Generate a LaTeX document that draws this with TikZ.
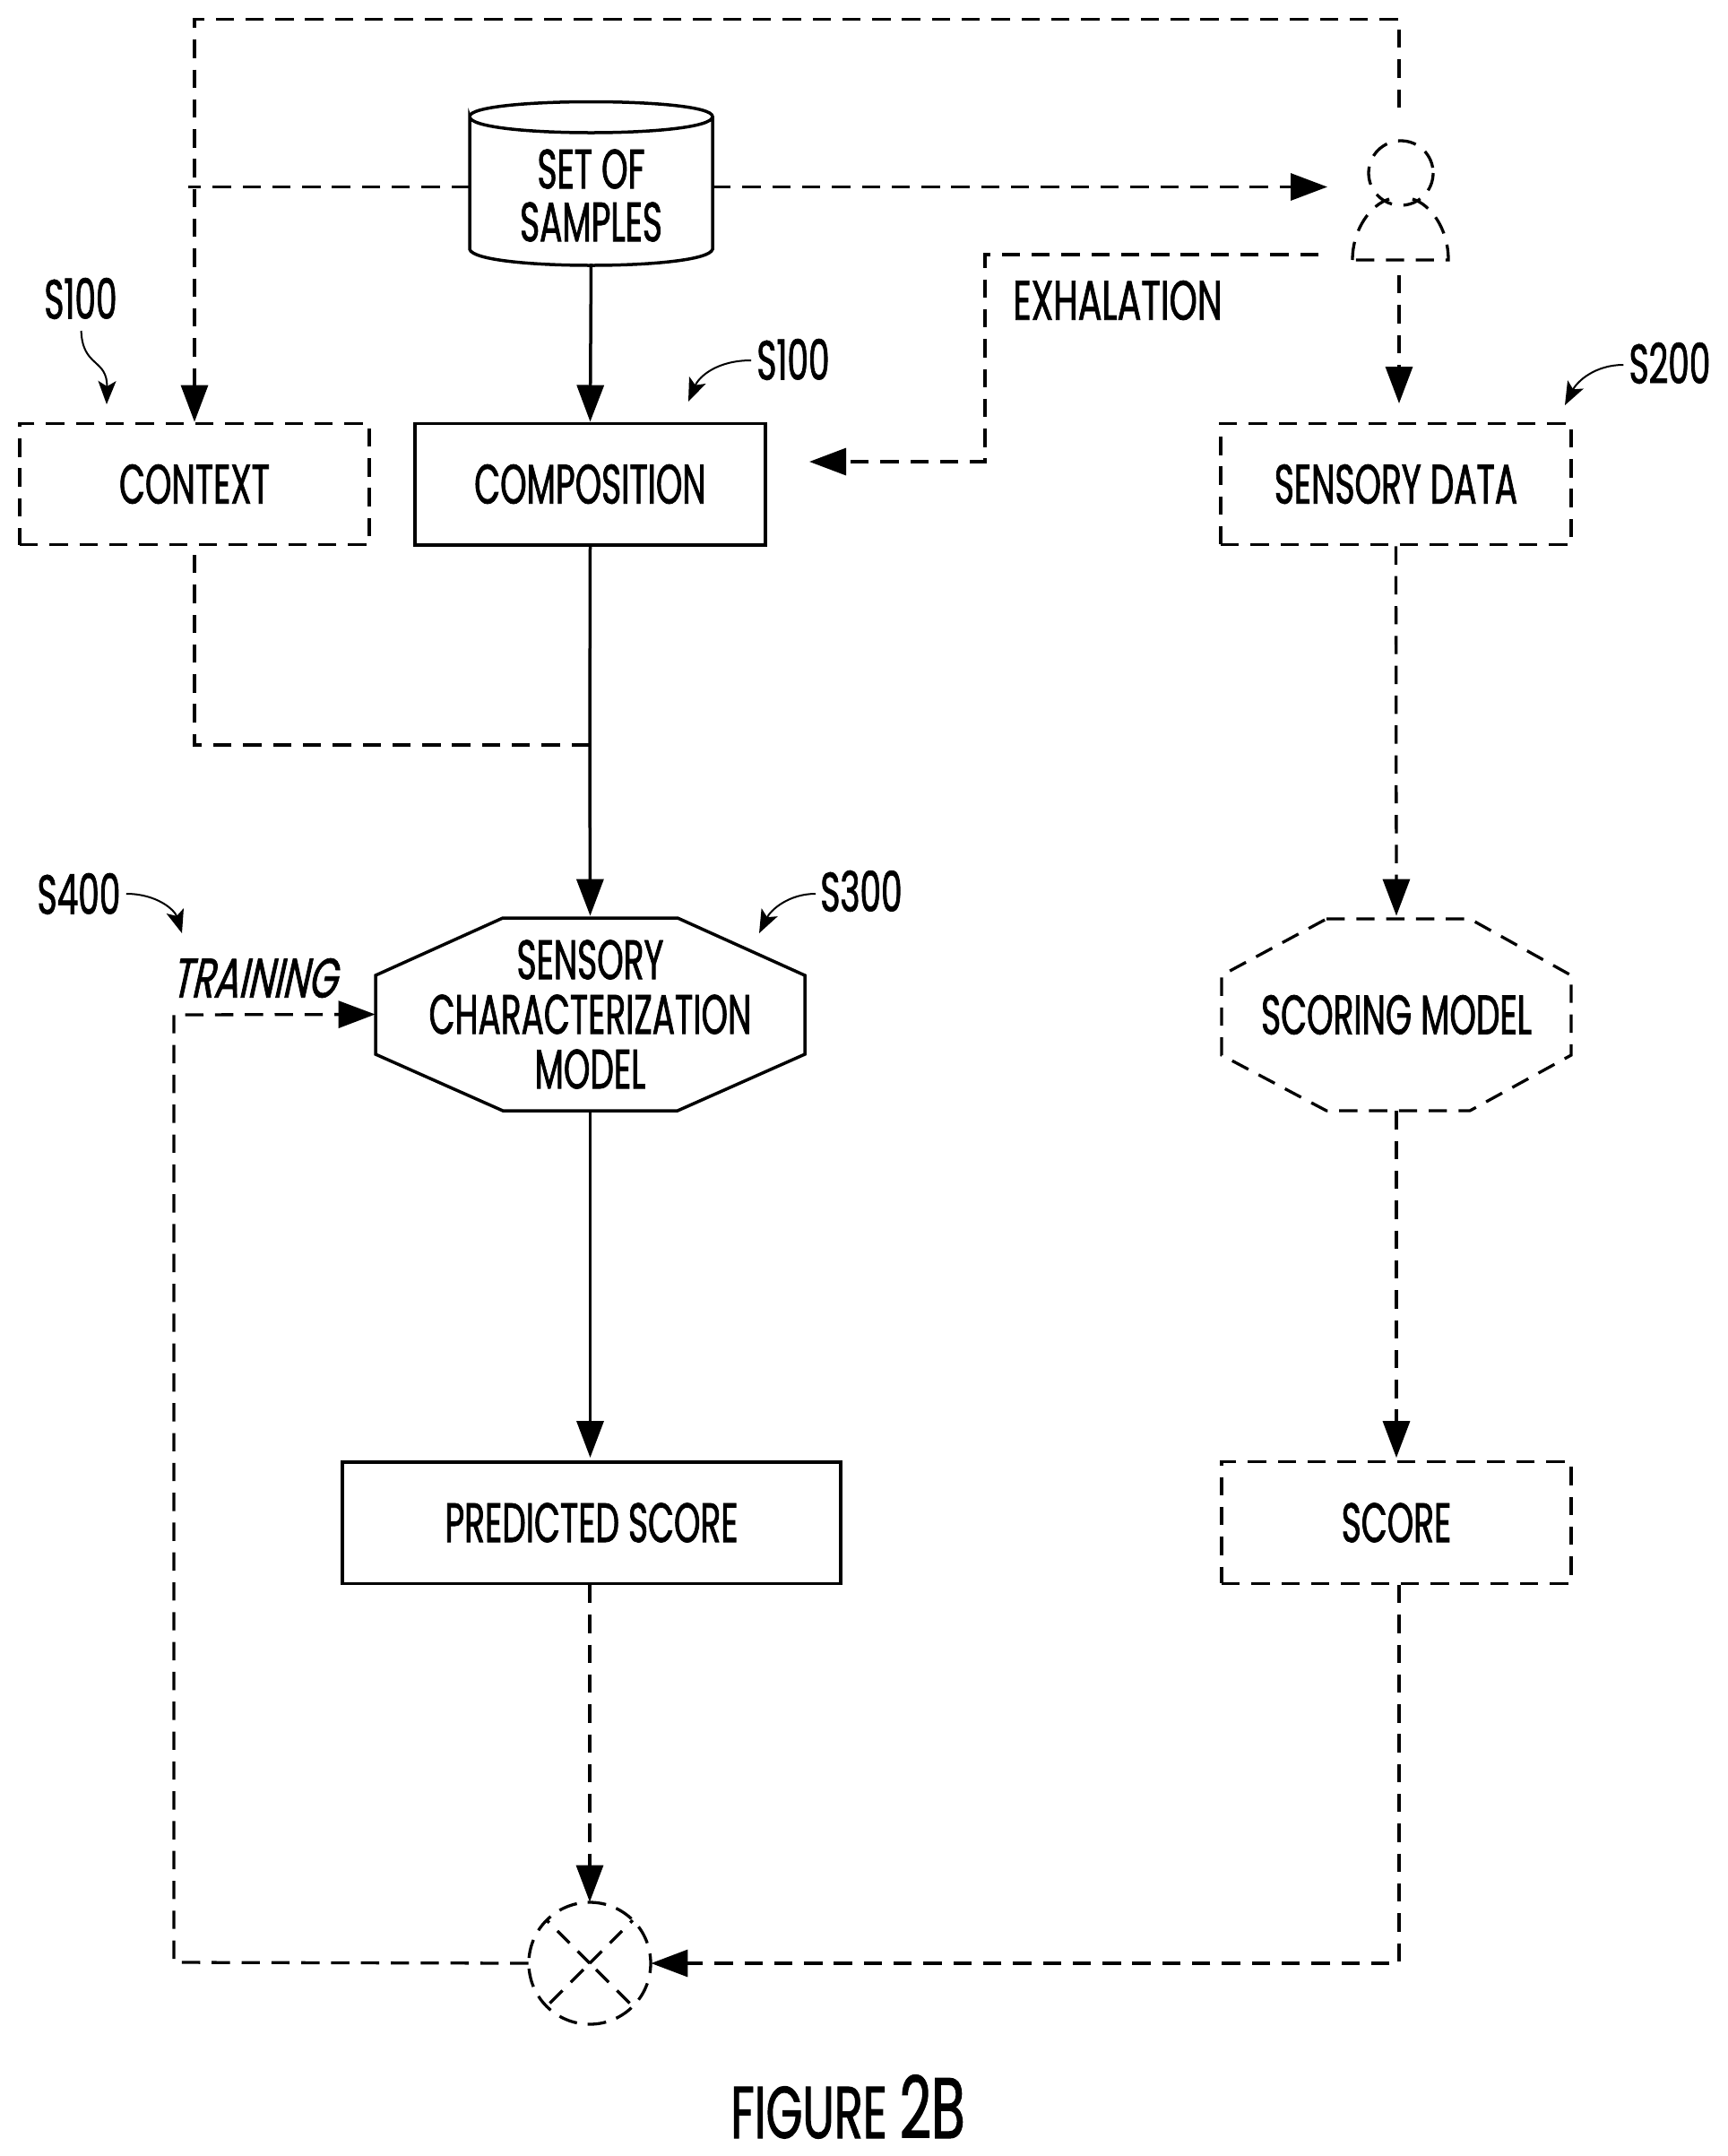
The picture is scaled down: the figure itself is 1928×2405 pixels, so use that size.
\documentclass[tikz,border=0pt]{standalone}
\usepackage{fontspec}
\usetikzlibrary{arrows.meta,calc}
\newfontfamily\lblfont[FakeStretch=0.605,FakeBold=1.2]{Poppins}
\newfontfamily\exhfont[FakeStretch=0.64,FakeBold=1.2]{Poppins}
\newfontfamily\figfont[FakeStretch=0.64,FakeBold=1.2]{Poppins}
\newfontfamily\trainfont[FakeStretch=0.66,FakeSlant=0.22,FakeBold=1.2]{Poppins}
\tikzset{
  solidline/.style={draw=black,line width=1.75pt},
  dashline/.style={draw=black,line width=1.65pt,dash pattern=on 10.2pt off 6.45pt},
  headtip/.style={-{Triangle[length=20.5pt,width=15pt]}},
  curly/.style={draw=black,line width=1pt,-{Stealth[length=13pt,width=10pt,inset=3pt]}},
  lab/.style={font=\lblfont\fontsize{31}{29.5}\selectfont,align=center,text=black,inner sep=0pt},
  ref/.style={lab},
  solidbox/.style={solidline,lab,minimum height=67.75pt},
  dashbox/.style={dashline,lab,minimum height=67.75pt},
  hold/.style={lab,minimum width=1pt},
  spokeup/.style={draw=black,line width=1.65pt,dash pattern=on 9.5pt off 6.5pt},
  spokedown/.style={draw=black,line width=1.65pt,dash pattern=on 10pt off 6.5pt,dash phase=11.5pt},
  ringline/.style={draw=black,line width=1.65pt,dash pattern=on 10.4pt off 6pt,dash phase=5pt},
}
\begin{document}
\begin{tikzpicture}[x=0.5pt,y=-0.5pt]
\useasboundingbox (0,0) rectangle (1928,2405);
% nodes
\node[hold,minimum width=135.5pt,minimum height=81.5pt] (samples) at (659.5,218) {SET OF\\SAMPLES};
\draw[solidline] (524,130) .. controls (524,108) and (795,108) .. (795,130)
  .. controls (795,154) and (524,154) .. (524,130) -- (524,278)
  .. controls (530,302) and (789,302) .. (795,278) -- (795,130);
\node[dashbox,minimum width=195pt] (context) at (217,540) {CONTEXT};
\node[solidbox,minimum width=195.5pt] (composition) at (658.5,540) {COMPOSITION};
\node[dashbox,minimum width=195.5pt] (sensory) at (1557.5,540) {SENSORY DATA};
\node[hold,minimum width=239.5pt,minimum height=107.5pt] (charmodel) at (658.5,1131.5) {SENSORY\\[1pt]CHARACTERIZATION\\[1pt]MODEL};
\draw[solidline] (561,1024) -- (756,1024) -- (898,1088) -- (898,1176) -- (756,1239) -- (561,1239) -- (419,1176) -- (419,1088) -- cycle;
\node[hold,minimum width=195pt,minimum height=107pt] (scoring) at (1558,1132) {SCORING MODEL};
\draw[dashline] (1480,1025) -- (1640,1025) -- (1753,1088) -- (1753,1177) -- (1640,1239) -- (1480,1239) -- (1363,1177) -- (1363,1088) -- cycle;
\node[solidbox,minimum width=278pt] (predicted) at (660,1698.5) {PREDICTED SCORE};
\node[dashbox,minimum width=195pt] (score) at (1558,1698.5) {SCORE};
\node[draw=none,circle,minimum size=68pt,inner sep=0pt] (cmp) at (658,2190) {};
\draw[ringline] (cmp) circle[radius=68];
\draw[spokeup] (cmp.center) -- (610,2142);
\draw[spokeup] (cmp.center) -- (706,2142);
\draw[spokedown] (cmp.center) -- (610,2238);
\draw[spokedown] (cmp.center) -- (706,2238);
\node[draw=none,circle,minimum size=36pt,inner sep=0pt] (head) at (1563,193) {};
\draw[dashline] (head) circle[radius=36];
\node[draw=none,minimum width=54pt,minimum height=33pt,inner sep=0pt] (body) at (1562,257) {};
\draw[dashline] (1509,290) .. controls (1509,255) and (1530,228) .. (1550,222)
  (1576,222) .. controls (1596,228) and (1616,255) .. (1616,290) -- (1509,290);
% labels
\node[lab,font=\exhfont\fontsize{31}{29.5}\selectfont] (exh) at (1247,335) {EXHALATION};
\node[ref] (s100a) at (90,333) {S100};
\node[ref] (s100b) at (885,401) {S100};
\node[ref] (s200) at (1863,405) {S200};
\node[ref] (s300) at (961,994) {S300};
\node[ref] (s400) at (88,997) {S400};
\node[lab,font=\trainfont\fontsize{31}{29.5}\selectfont] (training) at (283,1091) {TRAINING};
\node[lab,font=\figfont] (figure) at (946,2350) {\fontsize{41}{41}\selectfont FIGURE \fontsize{48}{48}\selectfont 2B};
% callouts
\coordinate (t100a) at (119,451);
\coordinate (t100b) at (768,448);
\coordinate (t200) at (1746,452);
\coordinate (t300) at (847,1041);
\coordinate (t400) at (203,1041);
\draw[curly] (90.6,369) .. controls (92,410) and (120,400) .. (t100a);
\draw[curly] (s100b.west) ++(-6,1) .. controls (800,402) and (780,420) .. (t100b);
\draw[curly] (s200.west) ++(-6,2) .. controls (1780,407) and (1760,425) .. (t200);
\draw[curly] (s300.west) ++(-5,3) .. controls (880,997) and (860,1015) .. (t300);
\draw[curly] (s400.east) ++(6,0) .. controls (175,997) and (195,1015) .. (t400);
% connectors
\coordinate (tl) at (217,21.5);
\coordinate (tr) at (1561,21.5);
\coordinate (xl) at (210,208.5);
\coordinate (ex1) at (1099,284);
\coordinate (ex2) at (1099,515);
\coordinate (exend) at (1471,284);
\coordinate (join) at (658,831);
\coordinate (jl) at (217,831);
\coordinate (tarr) at (194,1132);
\coordinate (bl) at (194,2189);
\coordinate (bend) at (1561,2190);
\draw[solidline,headtip] (samples.south |- 294,294) -- (composition.north);
\draw[solidline] (composition.south) -- (join);
\draw[solidline,headtip] (join) -- ($(charmodel.north)+(0,-2)$);
\draw[solidline,headtip] (charmodel.south) -- ($(predicted.north -| charmodel.south)+(0,-3)$);
\draw[dashline] (join) -- (jl) -- (context.south);
\draw[dashline,headtip] (1561,120) -- (tr) -- (tl) -- (context.north);
\draw[dashline] (524,208.5) -- (xl);
\draw[dashline,headtip] (795,208.5) -- (1481,208.5);
\draw[dashline,headtip] (exend) -- (ex1) -- (ex2) -- (903,515);
\draw[dashline,headtip] (1561,307) -- (1561,450);
\draw[dashline,headtip] (sensory.south) -- ($(scoring.north)+(0,-3)$);
\draw[dashline,headtip] (scoring.south) -- ($(score.north)+(0,-3)$);
\draw[dashline,headtip] (predicted.south -| cmp.north) -- (cmp.north);
\draw[dashline,headtip] (score.south -| bend) -- (bend) -- (cmp.east);
\draw[dashline,headtip] (cmp.west) -- (bl) -- (tarr) -- (charmodel.west);
\end{tikzpicture}
\end{document}
